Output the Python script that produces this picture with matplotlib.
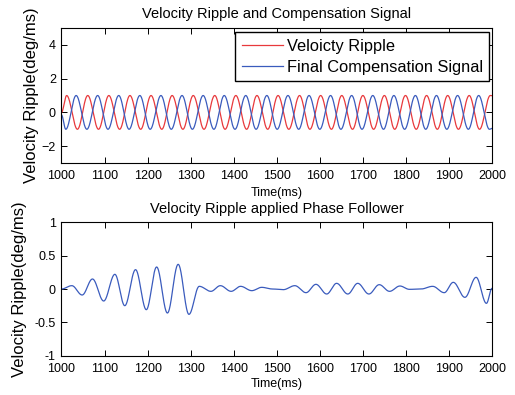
import numpy as np
import matplotlib
matplotlib.use('Agg')
import matplotlib.pyplot as plt

plt.rcParams['font.family'] = ['Liberation Sans', 'DejaVu Sans']

# top plot: turning points (time in ms, deg/ms)
ripple_t = [1000, 1012, 1037, 1061, 1086, 1110, 1135, 1159, 1184, 1208, 1233,
            1257, 1282, 1306, 1331, 1356, 1380, 1405, 1430, 1454, 1479, 1503,
            1528, 1553, 1577, 1602, 1627, 1651, 1676, 1700, 1725, 1750, 1774,
            1799, 1824, 1848, 1873, 1897, 1922, 1947, 1971, 1996, 2000]
ripple_v = [0.0, 1, -1, 1, -1, 1, -1, 1, -1, 1, -1,
            1, -1, 1, -1, 1, -1, 1, -1, 1, -1, 1,
            -1, 1, -1, 1, -1, 1, -1, 1, -1, 1, -1,
            1, -1, 1, -1, 1, -1, 1, -1, 1, 0.99]

comp_t = [1000, 1010, 1034, 1059, 1084, 1108, 1133, 1157, 1182, 1206, 1231,
          1255, 1280, 1304, 1329, 1354, 1378, 1403, 1428, 1452, 1477, 1501,
          1526, 1551, 1575, 1600, 1625, 1649, 1674, 1698, 1723, 1748, 1772,
          1797, 1822, 1846, 1871, 1895, 1920, 1945, 1969, 1994, 2000]
comp_v = [-0.15, -1, 1, -1, 1, -1, 1, -1, 1, -1, 1,
          -1, 1, -1, 1, -1, 1, -1, 1, -1, 1, -1,
          1, -1, 1, -1, 1, -1, 1, -1, 1, -1, 1,
          -1, 1, -1, 1, -1, 1, -1, 1, -1, -0.95]

# bottom plot: ripple with phase follower applied
pf_t = [1000, 1024, 1048, 1072, 1098, 1124, 1147, 1172, 1197, 1221, 1246,
        1271, 1296, 1320, 1347, 1369, 1394, 1416, 1442, 1465, 1490, 1515,
        1542, 1568, 1591, 1616, 1639, 1665, 1688, 1714, 1738, 1762, 1786,
        1808, 1835, 1862, 1889, 1910, 1937, 1963, 1987, 2000]
pf_v = [0.0, 0.05, -0.09, 0.15, -0.18, 0.22, -0.25, 0.29, -0.31, 0.33, -0.36,
        0.37, -0.38, 0.04, -0.035, 0.05, -0.035, 0.04, -0.025, 0.025, 0.0, -0.01,
        0.05, -0.055, 0.07, -0.075, 0.085, -0.075, 0.085, -0.075, 0.065, -0.035, 0.045,
        -0.005, 0.0, 0.04, -0.055, 0.1, -0.125, 0.175, -0.215, 0.01]

xticks = [1000, 1100, 1200, 1300, 1400, 1500, 1600, 1700, 1800, 1900, 2000]


def wave(tk, vk, step=0.5):
    # smooth half-cosine between successive turning points
    tk = np.asarray(tk, float)
    vk = np.asarray(vk, float)
    t = np.arange(tk[0], tk[-1] + step / 2, step)
    idx = np.clip(np.searchsorted(tk, t, side='right') - 1, 0, len(tk) - 2)
    t0, t1 = tk[idx], tk[idx + 1]
    v0, v1 = vk[idx], vk[idx + 1]
    s = (t - t0) / (t1 - t0)
    return t, v0 + (v1 - v0) * (1 - np.cos(np.pi * s)) / 2


red = '#e8393c'
blue = '#3a5bbd'

fig = plt.figure(figsize=(5.15, 3.95), dpi=100)
ax1 = fig.add_axes([0.1194, 0.5873, 0.836, 0.3418])
ax2 = fig.add_axes([0.1194, 0.0995, 0.836, 0.3377])

t, v = wave(ripple_t, ripple_v)
ax1.plot(t, v, color=red, lw=0.9, label='Veloicty Ripple')
t, v = wave(comp_t, comp_v)
ax1.plot(t, v, color=blue, lw=0.9, label='Final Compensation Signal')
ax1.set_ylim(-3, 5)
ax1.set_yticks([-2, 0, 2, 4])
ax1.set_title('Velocity Ripple and Compensation Signal', fontsize=10.5, pad=7)
leg = ax1.legend(loc='upper right', bbox_to_anchor=(0.9937, 0.968), borderaxespad=0,
                 fontsize=11.8, fancybox=False, framealpha=1, edgecolor='black',
                 handlelength=2.5, handletextpad=0.25, borderpad=0.4, labelspacing=0.35)
leg.get_frame().set_linewidth(1.0)

t, v = wave(pf_t, pf_v)
ax2.plot(t, v, color=blue, lw=0.9)
ax2.set_ylim(-1, 1)
ax2.set_yticks([-1, -0.5, 0, 0.5, 1])
ax2.set_yticklabels(['-1', '-0.5', '0', '0.5', '1'])
ax2.set_title('Velocity Ripple applied Phase Follower', fontsize=10.5, pad=7)

for ax, xl_y, yl_x in ((ax1, -0.18, -0.052), (ax2, -0.17, -0.080)):
    ax.set_xlim(1000, 2000)
    ax.set_xticks(xticks)
    ax.tick_params(direction='in', top=True, right=True, length=4, width=0.7,
                   labelsize=9, pad=4)
    ax.tick_params(axis='x', pad=5.2)
    for sp in ax.spines.values():
        sp.set_linewidth(0.8)
    ax.set_xlabel('Time(ms)', fontsize=9)
    ax.xaxis.set_label_coords(0.5, xl_y)
    ax.set_ylabel('Velocity Ripple(deg/ms)', fontsize=12)
    ax.yaxis.set_label_coords(yl_x, 0.5)

fig.savefig('out.png', dpi=100)
